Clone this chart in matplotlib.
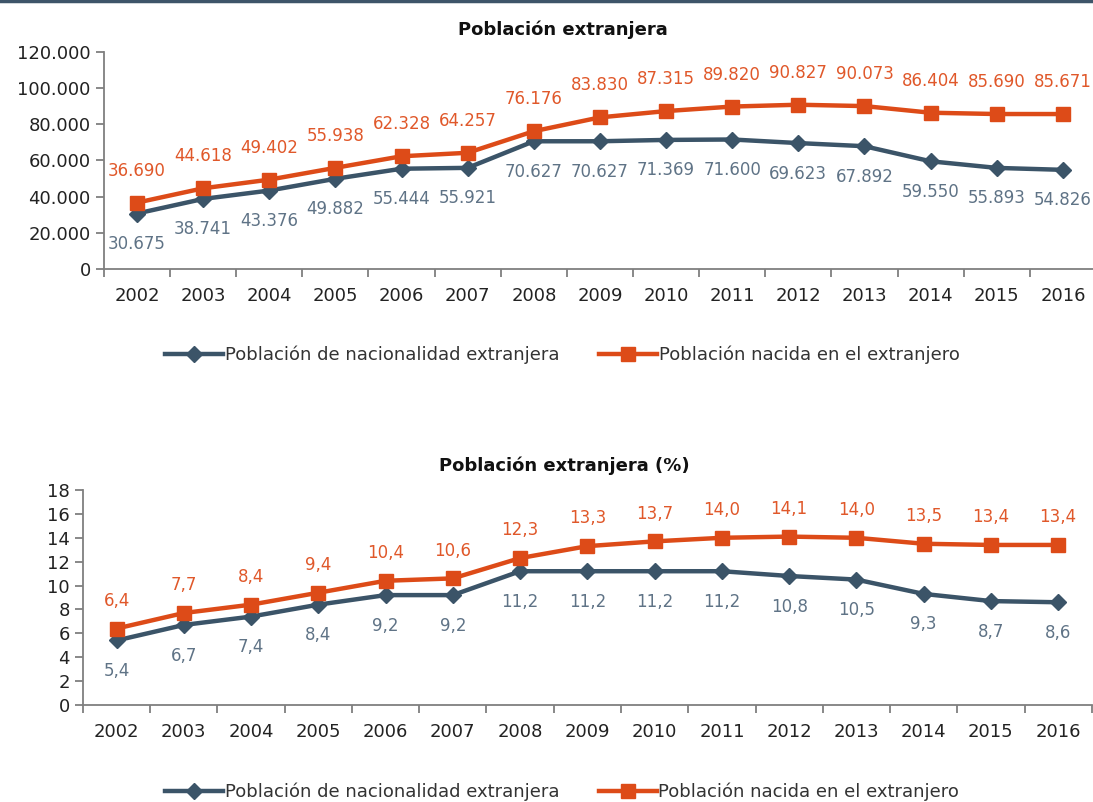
import matplotlib
matplotlib.use("Agg")
import matplotlib.pyplot as plt
from matplotlib.lines import Line2D

# Datos
years = [str(y) for y in range(2002, 2017)]
nacionalidad = [30675, 38741, 43376, 49882, 55444, 55921, 70627, 70627, 71369,
                71600, 69623, 67892, 59550, 55893, 54826]
nacidos = [36690, 44618, 49402, 55938, 62328, 64257, 76176, 83830, 87315,
           89820, 90827, 90073, 86404, 85690, 85671]
nacionalidad_pct = [5.4, 6.7, 7.4, 8.4, 9.2, 9.2, 11.2, 11.2, 11.2, 11.2, 10.8, 10.5, 9.3, 8.7, 8.6]
nacidos_pct = [6.4, 7.7, 8.4, 9.4, 10.4, 10.6, 12.3, 13.3, 13.7, 14.0, 14.1, 14.0, 13.5, 13.4, 13.4]

label_nac = "Población de nacionalidad extranjera"
label_ext = "Población nacida en el extranjero"

DARK = "#3b5468"
ORANGE = "#dd4b18"
DARK_TXT = "#5f7386"
ORANGE_TXT = "#e0582a"
AXIS = "#7f7f7f"

plt.rcParams['font.family'] = ['DejaVu Sans']

fig = plt.figure(figsize=(10.93, 8.02), dpi=100)
fig.add_artist(Line2D([0, 1], [0.9985, 0.9985], color="#3e5569", lw=2.5))


def fmt_miles(v):
    return f"{v:,.0f}".replace(",", ".")


def fmt_pct(v):
    return f"{v:.1f}".replace(".", ",")


def draw(ax, s1, s2, ymax, ystep, fmt, off_up, off_down):
    x = list(range(len(years)))
    ax.plot(x, s1, color=DARK, lw=3.2, marker="D", ms=8, label=label_nac, zorder=3)
    ax.plot(x, s2, color=ORANGE, lw=3.2, marker="s", ms=10, label=label_ext, zorder=3)
    for xi, v in zip(x, s1):
        ax.annotate(fmt(v), (xi, v), xytext=(0, -off_down), textcoords="offset points",
                    ha="center", va="center", color=DARK_TXT, fontsize=12)
    for xi, v in zip(x, s2):
        ax.annotate(fmt(v), (xi, v), xytext=(0, off_up), textcoords="offset points",
                    ha="center", va="center", color=ORANGE_TXT, fontsize=12)
    ax.set_xlim(-0.5, len(years) - 0.5)
    ax.set_ylim(0, ymax)
    yt = list(range(0, ymax + 1, ystep))
    ax.set_yticks(yt)
    if ystep >= 1000:
        ax.set_yticklabels([fmt_miles(v) for v in yt])
    ax.set_xticks(x)
    ax.set_xticklabels(years)
    ax.set_xticks([i - 0.5 for i in range(len(years) + 1)], minor=True)
    ax.tick_params(axis="x", which="major", length=0, pad=13, labelsize=13, colors="#222222")
    ax.tick_params(axis="x", which="minor", length=6, color=AXIS, width=1.3)
    ax.tick_params(axis="y", length=6, color=AXIS, width=1.3, labelsize=13, labelcolor="#222222")
    for sp in ["top", "right"]:
        ax.spines[sp].set_visible(False)
    for sp in ["left", "bottom"]:
        ax.spines[sp].set_color(AXIS)
        ax.spines[sp].set_linewidth(1.3)


ax1 = fig.add_axes([0.0951, 0.6646, 0.9076, 0.2706])
draw(ax1, nacionalidad, nacidos, 120000, 20000, fmt_miles, 23, 22)
ax1.legend(loc="center", bbox_to_anchor=(0.462, -0.396), ncol=2, frameon=False,
           fontsize=13, handlelength=3.2, columnspacing=2.2, handletextpad=0.1,
           labelcolor="#333333")
fig.text(0.515, 1 - 30 / 802, "Población extranjera", ha="center", va="center",
         fontsize=13, fontweight="bold", color="#111111")

ax2 = fig.add_axes([0.0759, 0.121, 0.923, 0.268])
draw(ax2, nacionalidad_pct, nacidos_pct, 18, 2, fmt_pct, 20, 22)
ax2.legend(loc="center", bbox_to_anchor=(0.475, -0.405), ncol=2, frameon=False,
           fontsize=13, handlelength=3.2, columnspacing=2.2, handletextpad=0.1,
           labelcolor="#333333")
fig.text(0.516, 1 - 466 / 802, "Población extranjera (%)", ha="center", va="center",
         fontsize=13, fontweight="bold", color="#111111")

fig.savefig("out.png", dpi=100)
